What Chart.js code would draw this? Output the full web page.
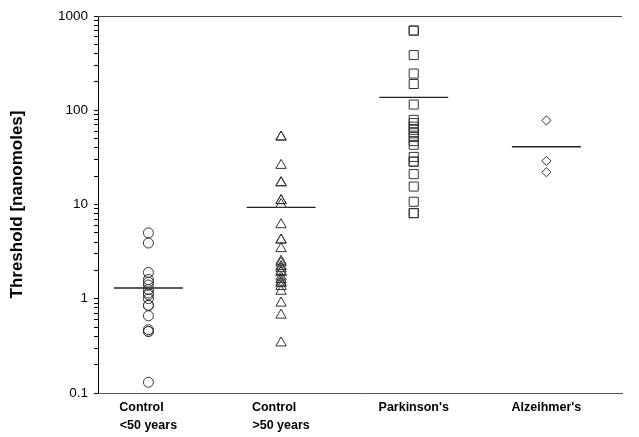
<!DOCTYPE html>
<html>
<head>
<meta charset="utf-8">
<script src="https://cdn.jsdelivr.net/npm/chart.js@4.4.0/dist/chart.umd.min.js"></script>
<style>
  html, body { margin: 0; padding: 0; background: #fff; }
</style>
</head>
<body>
<canvas id="chart" width="639" height="437"></canvas>
<script>
// groups on the x axis (multi-line labels; trailing spaces keep the two lines left-aligned)
const groups = [["Control    ", "<50 years"], ["Control    ", ">50 years"], ["Parkinson's"], ["Alzeihmer's"]];

// individual thresholds
const controlYoung = [5.0, 3.9, 1.9, 1.6, 1.5, 1.4, 1.25, 1.15, 1.1, 1.0, 0.85, 0.85, 0.66, 0.47, 0.45, 0.45, 0.13];
const controlOld = [52, 52, 26, 17, 17, 11, 11, 10, 6.1, 4.2, 4.2, 3.4, 2.5, 2.4, 2.2, 2.1, 1.95, 1.9, 1.7, 1.6, 1.5, 1.45, 1.35, 1.2, 0.9, 0.67, 0.34];
const parkinsons = [700, 700, 385, 245, 190, 115, 79, 73, 67, 62, 57, 52, 47, 43, 32, 28.5, 28.5, 21, 15.5, 10.7, 8.1, 8.1];
const alzheimers = [78, 29, 22];

// group means (horizontal bars)
const means = [1.3, 9.3, 137, 41];

const yTicks = [0.1, 1, 10, 100, 1000];

const series = [controlYoung, controlOld, parkinsons, alzheimers];
const markers = ["circle", "triangle", "rect", "rectRot"];
const radii = [5, 6, 6.4, 4.6];

const datasets = [];

series.forEach(function (values, i) {
  datasets.push({
    data: values.map((v) => ({ x: i + 1, y: v })),
    pointStyle: markers[i],
    pointRadius: radii[i],
    pointBorderColor: "#333",
    pointBackgroundColor: "rgba(0,0,0,0)",
    pointBorderWidth: 1,
    showLine: false,
  });
});

means.forEach(function (m, i) {
  datasets.push({
    data: [
      { x: i + 1 - 0.26, y: m },
      { x: i + 1 + 0.26, y: m },
    ],
    showLine: true,
    borderColor: "#222",
    borderWidth: 1.3,
    pointRadius: 0,
  });
});

// thin line along the top of the plot
const topLine = {
  id: "topLine",
  afterDraw(chart) {
    const a = chart.chartArea;
    const ctx = chart.ctx;
    ctx.save();
    ctx.strokeStyle = "#444";
    ctx.lineWidth = 1;
    ctx.beginPath();
    ctx.moveTo(a.left, a.top + 0.5);
    ctx.lineTo(a.right, a.top + 0.5);
    ctx.stroke();
    ctx.restore();
  },
};

new Chart("chart", {
  type: "scatter",
  data: { datasets: datasets },
  plugins: [topLine],
  options: {
    responsive: false,
    animation: false,
    layout: { padding: { left: 0, right: 17, top: 16, bottom: 0 } },
    plugins: { legend: { display: false }, tooltip: { enabled: false } },
    scales: {
      x: {
        type: "linear",
        min: 0.62,
        max: 4.57,
        afterBuildTicks: function (scale) {
          scale.ticks = groups.map((g, i) => ({ value: i + 1 }));
        },
        afterFit: function (scale) {
          scale.height = 44;
        },
        ticks: {
          autoSkip: false,
          maxRotation: 0,
          padding: 6,
          color: "#000",
          font: { family: "'Liberation Sans', Arial", size: 12.5, weight: "bold", lineHeight: 1.4 },
          callback: function (v) {
            return groups[v - 1];
          },
        },
        grid: { drawOnChartArea: false, drawTicks: false },
        border: { display: true, color: "#555", width: 1 },
      },
      y: {
        type: "logarithmic",
        min: 0.1,
        max: 1000,
        afterBuildTicks: function (scale) {
          const t = [];
          for (let e = -1; e <= 2; e++) {
            for (let s = 1; s <= 9; s++) {
              t.push({ value: Number((s * Math.pow(10, e)).toPrecision(3)) });
            }
          }
          t.push({ value: 1000 });
          scale.ticks = t;
        },
        afterFit: function (scale) {
          scale.width = 98;
        },
        ticks: {
          autoSkip: false,
          padding: 6,
          color: "#000",
          font: { family: "'Liberation Sans', Arial", size: 13.5 },
          callback: function (v) {
            return yTicks.includes(v) ? String(v) : "";
          },
        },
        grid: { drawOnChartArea: false, drawTicks: true, tickLength: 4, tickColor: "#000" },
        border: { display: true, color: "#000", width: 1 },
        title: {
          display: true,
          text: "Threshold [nanomoles]",
          color: "#000",
          padding: { top: 7, bottom: 0 },
          font: { family: "'Liberation Sans', Arial", size: 17, weight: "bold" },
        },
      },
    },
  },
});
</script>
</body>
</html>
